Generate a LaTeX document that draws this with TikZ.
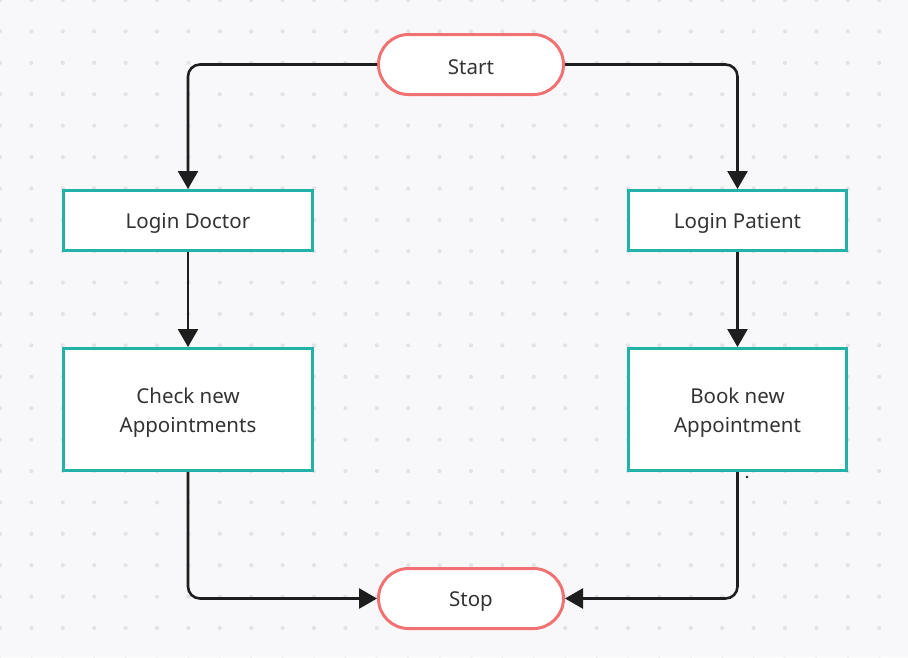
\documentclass[tikz,border=0pt]{standalone}
\usepackage{fontspec}
\setmainfont{Noto Sans}
\usetikzlibrary{arrows.meta}
\definecolor{bgc}{HTML}{F8F8FA}
\definecolor{dotc}{HTML}{E3E3E7}
\definecolor{teal}{HTML}{22B2AA}
\definecolor{redc}{HTML}{F07272}
\definecolor{linec}{HTML}{1E1E1E}
\definecolor{txtc}{HTML}{333333}
\begin{document}
\begin{tikzpicture}[x=1pt,y=-1pt,
  txt/.style={font=\fontsize{20.5}{29}\selectfont, text=txtc, align=center, inner sep=0pt},
  procbox/.style={draw=teal, line width=3pt, fill=white, rectangle, inner sep=0pt},
  termbox/.style={draw=redc, line width=3pt, fill=white, rectangle, rounded corners=30pt,
    minimum width=185pt, minimum height=60pt, inner sep=0pt},
  conn/.style={draw=linec, line width=2.6pt, rounded corners=12pt,
    -{Triangle[length=18pt,width=20pt]}}]
\fill[bgc] (0,0) rectangle (908,657);
\useasboundingbox (0,0) rectangle (908,657);
\foreach \i in {0,...,29}{\foreach \j in {0,...,21}{\fill[dotc] (\i*31.4,\j*31.4) circle (2.1);}}
\node[termbox] (start) at (471,64.5) {};
\node[termbox] (stop) at (471,598.5) {};
\node[procbox, minimum width=249pt, minimum height=60pt] (ld) at (188,220.5) {};
\node[procbox, minimum width=218pt, minimum height=60pt] (lp) at (737.5,220.5) {};
\node[procbox, minimum width=249pt, minimum height=122pt] (cn) at (188,409.5) {};
\node[procbox, minimum width=218pt, minimum height=122pt] (bn) at (737.5,409.5) {};
\node[txt] (tstart) at ([yshift=-3pt]start.center) {Start};
\node[txt] (tstop) at ([yshift=-3pt]stop.center) {Stop};
\node[txt] (tld) at ([yshift=-3pt]ld.center) {Login Doctor};
\node[txt] (tlp) at ([yshift=-3pt]lp.center) {Login Patient};
\node[txt] (tcn) at ([yshift=-3pt]cn.center) {Check new\\Appointments};
\node[txt] (tbn) at ([yshift=-3pt]bn.center) {Book new\\Appointment};
\draw[conn] (start.west) -| (ld.north);
\draw[conn] (start.east) -| (lp.north);
\draw[conn] (ld.south) -- (cn.north);
\draw[conn] (lp.south) -- (bn.north);
\draw[conn] (cn.south) |- (stop.west);
\draw[conn] (bn.south) |- (stop.east);
\coordinate (speck) at (747,477);
\fill[linec] (speck) circle (1.3);
\end{tikzpicture}
\end{document}
